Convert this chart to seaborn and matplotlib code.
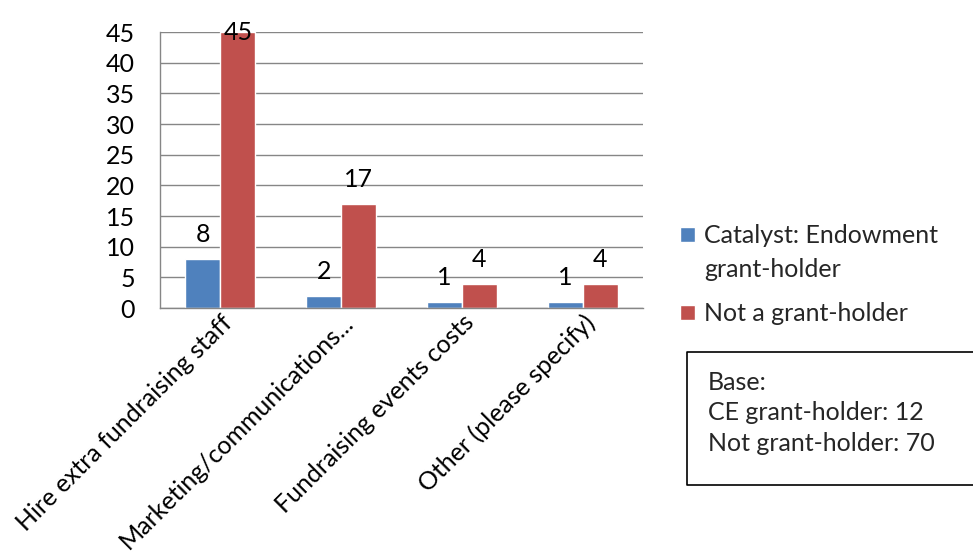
import pandas as pd
import seaborn as sns
import matplotlib.pyplot as plt
from matplotlib.lines import Line2D

# Chart data
categories = ['Hire extra fundraising staff', 'Marketing/communications...',
              'Fundraising events costs', 'Other (please specify)']
series_names = ['Catalyst: Endowment', 'Not a grant-holder']
series_extra = 'grant-holder'  # second line of the first legend label
catalyst = [8, 2, 1, 1]
not_holder = [45, 17, 4, 4]
base_text = 'Base:\nCE grant-holder: 12\nNot grant-holder: 70'

df = pd.DataFrame({
    'category': categories * 2,
    'group': [series_names[0]] * 4 + [series_names[1]] * 4,
    'count': catalyst + not_holder,
})

sns.set_theme(style='white')
plt.rcParams['font.family'] = ['Lato', 'DejaVu Sans']
fs = 18

fig = plt.figure(figsize=(9.73, 5.54), dpi=100)
ax = fig.add_axes([0.1644, 0.444, 0.4966, 0.498])

sns.barplot(data=df, x='category', y='count', hue='group', order=categories,
            hue_order=series_names, palette=['#4F81BD', '#C0504D'],
            width=0.58, saturation=1, ax=ax)

ax.set_ylim(0, 45)
ax.set_xlim(-0.5, 3.5)

# data labels; the tallest one sits on the top edge like in Excel
for cont in ax.containers:
    labels = ax.bar_label(cont, padding=9, fontsize=fs, color='black')
    for bar, lab in zip(cont, labels):
        if bar.get_height() >= ax.get_ylim()[1]:
            lab.xyann = (0, 0)
            lab.set_va('center')

ax.set_yticks(range(0, 46, 5))
ax.yaxis.grid(True, color='#868686', linewidth=1)
ax.set_axisbelow(True)
ax.set_xlabel('')
ax.set_ylabel('')
for side in ['top', 'right']:
    ax.spines[side].set_visible(False)
for side in ['left', 'bottom']:
    ax.spines[side].set_color('#868686')
    ax.spines[side].set_linewidth(1)
ax.tick_params(axis='both', length=0, labelsize=fs, colors='black')
ax.tick_params(axis='y', pad=18)
ax.tick_params(axis='x', pad=2)
plt.setp(ax.get_xticklabels(), rotation=45, ha='right', rotation_mode='anchor')

leg = ax.legend(loc='upper left', bbox_to_anchor=(1.03, 0.385), frameon=False,
                fontsize=fs, handlelength=0.6, handleheight=0.6,
                handletextpad=0.35, labelspacing=2.2)

# second line of the first legend entry
fig.canvas.draw()
t0 = leg.get_texts()[0]
bb = t0.get_window_extent().transformed(fig.transFigure.inverted())
fig.text(bb.x0, bb.y0 - 0.06, series_extra, fontsize=fs, va='bottom', ha='left')

# base box, open on the right because it runs off the picture
x0, x1, y0, y1 = 0.706, 1.01, 0.1245, 0.3645
fig.add_artist(Line2D([x1, x0, x0, x1], [y1, y1, y0, y0], transform=fig.transFigure,
                      color='black', linewidth=1.2))
fig.text(0.7277, 0.33, base_text, fontsize=fs, va='top', ha='left',
         linespacing=1.38)

fig.savefig('out.png', dpi=100)
